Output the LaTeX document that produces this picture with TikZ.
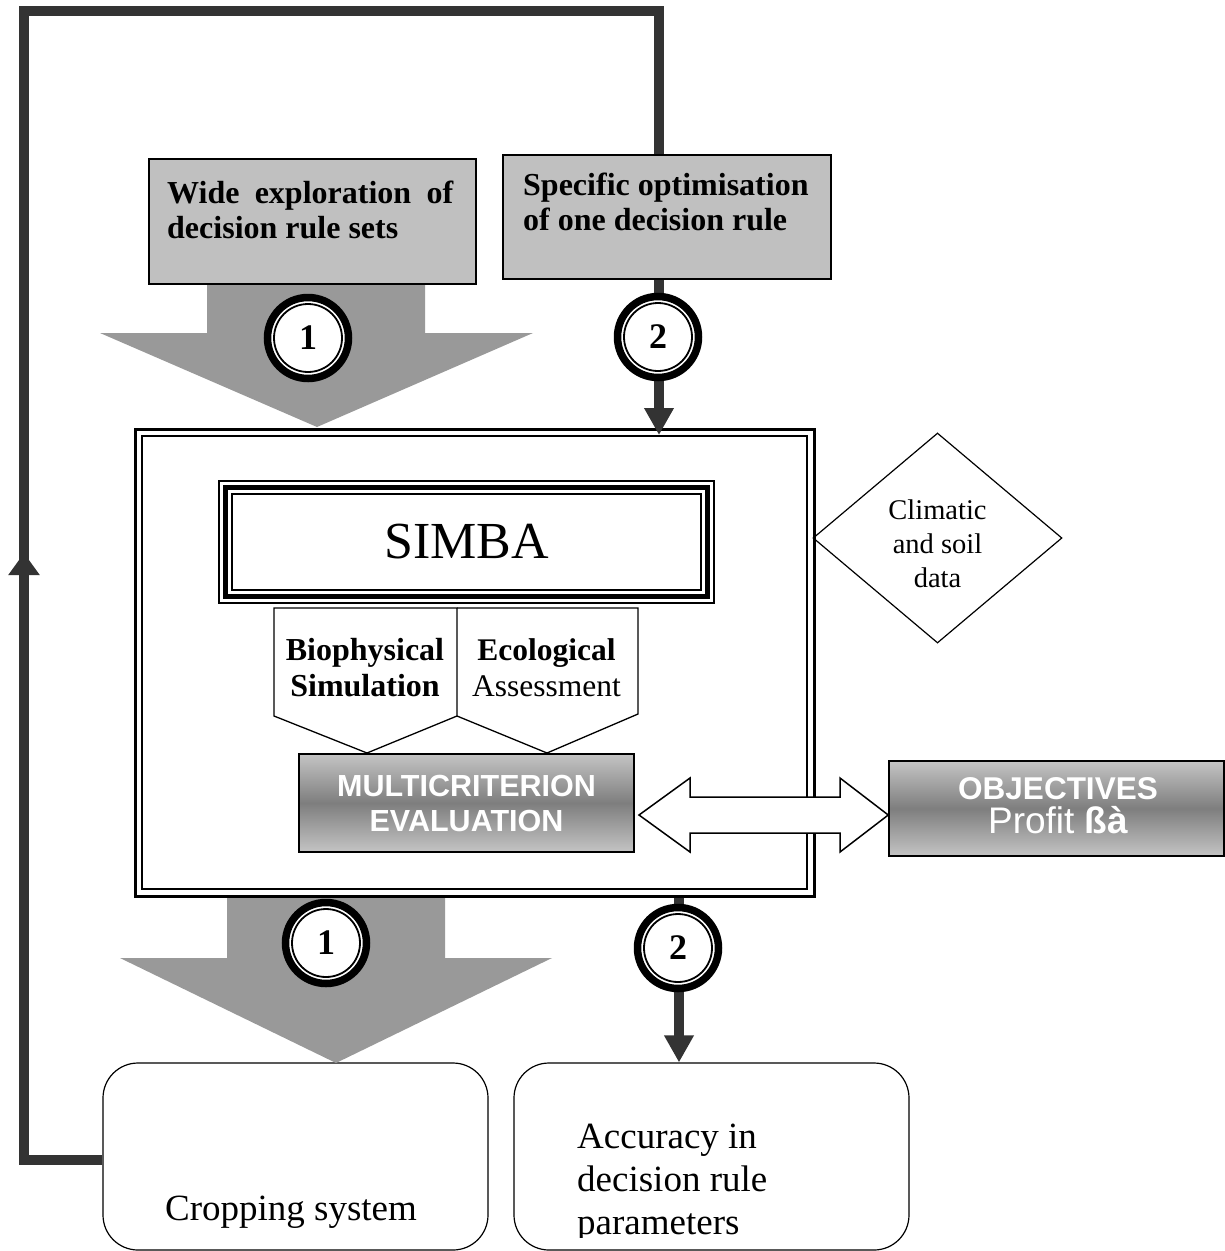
\documentclass[tikz,border=0pt]{standalone}
\usepackage{fontspec}
\setmainfont{Liberation Serif}
\setsansfont{Liberation Sans}
\usetikzlibrary{arrows.meta,shapes.geometric}
\definecolor{darklinecol}{HTML}{333333}
\definecolor{grayarrowcol}{HTML}{999999}
\definecolor{boxgraycol}{HTML}{C0C0C0}
\definecolor{gradlightcol}{HTML}{C4C4C4}
\definecolor{graddarkcol}{HTML}{7E7E7E}
\newcommand\hdrfont{\fontsize{32}{35}\selectfont\bfseries}
\newcommand\numfont{\fontsize{36}{36}\selectfont\bfseries}
\newcommand\bigtxtfont{\fontsize{37}{43}\selectfont}
\begin{document}
\begin{tikzpicture}[x=1pt,y=-1pt,
  darkline/.style={draw=darklinecol, line width=10pt},
  hdrbox/.style={draw=black, line width=1.5pt, fill=boxgraycol, inner sep=0pt},
  numring/.style={circle, draw=black, line width=7.5pt, fill=white, minimum size=81pt, inner sep=0pt, font=\numfont},
  gradbox/.style={draw=black, line width=1.5pt, top color=gradlightcol, bottom color=gradlightcol, middle color=graddarkcol, inner sep=0pt},
  roundbox/.style={draw=black, line width=1.2pt, rounded corners=35pt, inner sep=0pt},
  plaintext/.style={inner sep=0pt},
  tipbig/.style={-{Triangle[length=27pt,width=28pt]}},
  tipsmall/.style={-{Triangle[length=22pt,width=30pt]}},
]
\useasboundingbox (0,0) rectangle (1225,1251);

% coordinates of the loop and connectors
\coordinate (bl) at (24,1160);
\coordinate (tl) at (24,11);
\coordinate (tr) at (659,11);
\coordinate (upmid) at (24,640);
\coordinate (uptip) at (24,553);
\coordinate (t2end) at (659,435);
\coordinate (b2) at (679,0);

% main container (double line)
\node[draw=black, line width=3pt, minimum width=679pt, minimum height=467pt, inner sep=0pt, fill=white] (outer) at (474.5,662.5) {};
\node[draw=black, line width=1.5pt, minimum width=665pt, minimum height=453pt, inner sep=0pt] (inner) at (outer.center) {};

% bottom boxes
\node[roundbox, minimum width=385pt, minimum height=187pt] (crop) at (295.5,1156.5) {};
\node[roundbox, minimum width=395pt, minimum height=187pt] (acc) at (711.5,1156.5) {};

% big gray arrows
\fill[grayarrowcol] (207,284) -- (425,284) -- (425,333) -- (533,333) -- (317,427) -- (100,333) -- (207,333) -- cycle;
\fill[grayarrowcol] (227,898) -- (445,898) -- (445,958) -- (552,958) -- (336,1063) -- (120,958) -- (227,958) -- cycle;

% loop line
\draw[darkline] (crop.west |- bl) -- (bl) -- (tl) -- (tr) -- (tr |- 0,160);
\draw[darkline, tipsmall] (upmid) -- (uptip);

% header boxes
\node[hdrbox, minimum width=327pt, minimum height=125pt] (wide) at (312.5,221.5) {};
\node[hdrbox, minimum width=328pt, minimum height=124pt] (spec) at (667,217) {};
\node[plaintext, anchor=base west, align=left, font=\hdrfont] (widetext) at (167,238) {\makebox[286pt][s]{Wide exploration of}\\decision rule sets};
\node[plaintext, anchor=base west, align=left, font=\hdrfont] (spectext) at (523,230) {Specific optimisation\\of one decision rule};

% connector 2 (top and bottom)
\draw[darkline, tipbig] (spec.south -| tr) -- (t2end);
\draw[darkline, tipbig] (outer.south -| b2) -- (acc.north -| b2);

% numbered rings
\node[numring] (n1top) at (308,338) {1};
\draw[line width=1.8pt] (n1top.center) circle[radius=34pt];
\node[numring] (n2top) at (658,337) {2};
\draw[line width=1.8pt] (n2top.center) circle[radius=34pt];
\node[numring] (n1bot) at (326,943) {1};
\draw[line width=1.8pt] (n1bot.center) circle[radius=34pt];
\node[numring] (n2bot) at (678,948) {2};
\draw[line width=1.8pt] (n2bot.center) circle[radius=34pt];

% SIMBA box (triple line)
\node[draw=black, line width=1.5pt, minimum width=495pt, minimum height=122pt, inner sep=0pt] (simba) at (466.5,542) {};
\node[draw=black, line width=5pt, minimum width=482pt, minimum height=109pt, inner sep=0pt] (simbamid) at (simba.center) {};
\node[draw=black, line width=2pt, minimum width=469pt, minimum height=96pt, inner sep=0pt, font=\fontsize{52}{52}\selectfont] (simbain) at (simba.center) {SIMBA};

% pentagons
\draw[line width=1.3pt, line join=miter] (274,608) -- (457,608) -- (457,716) -- (367,753) -- (274,716) -- cycle;
\draw[line width=1.3pt, line join=miter] (457,608) -- (638,608) -- (638,714) -- (547,753) -- (457,716);
\node[plaintext, align=center, font=\fontsize{32}{36}\selectfont\bfseries] (bio) at (365,668) {Biophysical\\Simulation};
\node[plaintext, align=center, font=\fontsize{31.5}{36}\selectfont] (eco) at (546.5,668) {\textbf{Ecological}\\Assessment};

% multicriterion
\node[gradbox, minimum width=335pt, minimum height=98pt] (multi) at (466.5,803) {};
\node[plaintext, align=center, text=white, font=\sffamily\bfseries\fontsize{30.5}{35}\selectfont] (multitext) at (466.5,803) {MULTICRITERION\\EVALUATION};

% objectives
\node[gradbox, minimum width=335pt, minimum height=95pt] (obj) at (1056.5,808.5) {};
\node[plaintext, align=center, text=white, font=\sffamily\fontsize{37}{34}\selectfont] (objtext) at (1058,806) {{\bfseries\fontsize{31.5}{34}\selectfont OBJECTIVES}\\Profit {\bfseries ßà}};

% double arrow between multicriterion and objectives
\draw[line width=1.5pt, line join=miter, fill=white] (639,815) -- (690,778) -- (690,797) -- (840,797) -- (840,778) -- (obj.west |- 0,815) -- (840,852) -- (840,833) -- (690,833) -- (690,852) -- cycle;

% diamond
\node[diamond, draw=black, line width=1.2pt, minimum width=249pt, minimum height=210pt, inner sep=0pt] (clim) at (937.5,538) {};
\node[plaintext, align=center, font=\fontsize{28.5}{34}\selectfont] (climtext) at (937.5,544) {Climatic\\and soil\\data};

% bottom texts
\node[plaintext, anchor=base, font=\bigtxtfont] (croptext) at (291,1220) {Cropping system};
\begin{scope}
\clip (514,1063) rectangle (909,1237);
\node[plaintext, anchor=base west, align=left, font=\bigtxtfont] (acctext) at (577,1234) {Accuracy in\\decision rule\\parameters};
\end{scope}
\end{tikzpicture}
\end{document}
